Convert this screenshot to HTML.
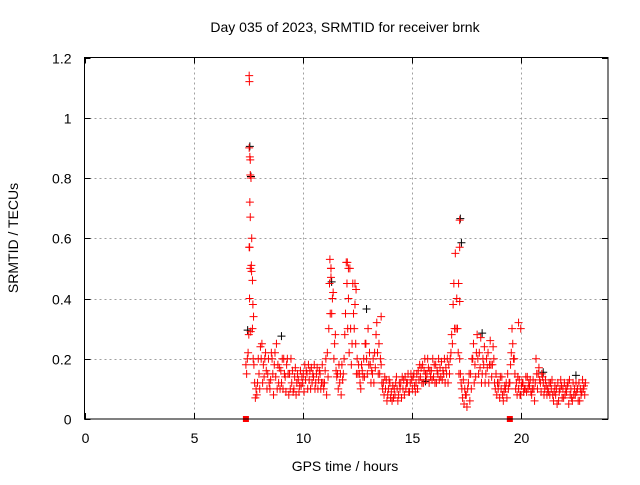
<!DOCTYPE html>
<html><head><meta charset="utf-8"><style>
body{margin:0;background:#fff;}
svg text{font-family:"Liberation Sans",sans-serif;font-size:14px;fill:#000;}
</style></head><body>
<svg id="chart" width="640" height="480" viewBox="0 0 640 480" xmlns="http://www.w3.org/2000/svg">
<rect width="640" height="480" fill="#fff"/>
<g id="grid"></g>
<g id="marks"></g>
<rect x="84.5" y="57.5" width="523.5" height="361.5" fill="none" stroke="#000" stroke-width="1"/>
<g id="ticks"></g>
<text x="345" y="32" text-anchor="middle">Day 035 of 2023, SRMTID for receiver brnk</text>
<text x="345" y="471" text-anchor="middle">GPS time / hours</text>
<text transform="translate(18,238) rotate(-90)" text-anchor="middle">SRMTID / TECUs</text>
</svg>
<script>
const xTicks=[0,5,10,15,20];
const yTicks=[0,0.2,0.4,0.6,0.8,1,1.2];
const yTickLabels=["0","0.2","0.4","0.6","0.8","1","1.2"];
const tStart=7.4, tStep=0.1;
const seriesA=[0.18,0.22,0.5,0.3,0.12,0.08,0.15,0.2,0.18,0.22,
0.15,0.1,0.2,0.18,0.25,0.12,0.16,0.1,0.14,0.2,
0.15,0.12,0.1,0.08,0.13,0.16,0.12,0.18,0.15,0.13,
0.17,0.14,0.12,0.1,0.15,0.18,0.12,0.08,0.3,0.5,
0.42,0.28,0.15,0.12,0.18,0.2,0.52,0.4,0.3,0.45,
0.38,0.2,0.15,0.18,0.2,0.25,0.3,0.18,0.15,0.22,
0.32,0.25,0.18,0.12,0.1,0.08,0.12,0.06,0.1,0.14,
0.08,0.12,0.1,0.14,0.12,0.09,0.13,0.15,0.12,0.16,
0.14,0.18,0.2,0.15,0.12,0.16,0.14,0.18,0.15,0.17,
0.13,0.2,0.15,0.18,0.22,0.38,0.55,0.3,0.2,0.1,
0.05,0.08,0.12,0.15,0.2,0.18,0.28,0.22,0.12,0.18,
0.15,0.22,0.26,0.18,0.12,0.08,0.12,0.1,0.06,0.1,
0.15,0.12,0.3,0.2,0.12,0.1,0.08,0.12,0.1,0.14,
0.11,0.08,0.1,0.2,0.15,0.12,0.14,0.1,0.08,0.12,
0.1,0.06,0.08,0.12,0.1,0.07,0.12,0.09,0.05,0.1,
0.12,0.08,0.1,0.06,0.09,0.11];
const seriesB=[0.15,0.28,0.8,0.2,0.07,0.12,0.1,0.25,0.14,0.16,
0.2,0.13,0.15,0.22,0.1,0.17,0.12,0.2,0.09,0.15,
0.1,0.16,0.14,0.12,0.09,0.11,0.15,0.13,0.1,0.16,
0.12,0.18,0.15,0.13,0.1,0.12,0.16,0.22,0.45,0.35,
0.2,0.16,0.1,0.15,0.13,0.28,0.45,0.22,0.18,0.35,
0.25,0.15,0.12,0.16,0.14,0.2,0.18,0.12,0.2,0.17,
0.22,0.15,0.12,0.08,0.13,0.1,0.07,0.11,0.08,0.1,
0.12,0.07,0.13,0.1,0.15,0.12,0.1,0.11,0.15,0.13,
0.17,0.12,0.15,0.2,0.16,0.13,0.18,0.12,0.2,0.14,
0.16,0.12,0.2,0.15,0.28,0.45,0.3,0.22,0.15,0.07,
0.1,0.04,0.15,0.1,0.25,0.14,0.2,0.17,0.15,0.24,
0.2,0.12,0.18,0.24,0.1,0.12,0.07,0.14,0.09,0.12,
0.1,0.18,0.25,0.15,0.08,0.13,0.11,0.09,0.14,0.1,
0.13,0.1,0.06,0.15,0.17,0.09,0.12,0.13,0.1,0.08,
0.13,0.09,0.1,0.06,0.13,0.1,0.08,0.11,0.13,0.07,
0.08,0.12,0.06,0.1,0.13,0.08];
const seriesC=[0.2,0.4,0.6,0.18,0.1,0.2,0.24,0.12,0.2,0.1,
0.12,0.22,0.08,0.14,0.18,0.1,0.2,0.15,0.18,0.08,
0.2,0.09,0.17,0.15,0.11,0.14,0.09,0.16,0.18,0.1,
0.15,0.1,0.17,0.16,0.12,0.1,0.2,0.14,0.35,0.4,
0.25,0.14,0.18,0.08,0.15,0.35,0.3,0.5,0.25,0.3,
0.15,0.18,0.1,0.14,0.25,0.15,0.22,0.16,0.12,0.28,
0.15,0.2,0.1,0.14,0.06,0.13,0.09,0.07,0.12,0.06,
0.1,0.14,0.08,0.12,0.09,0.15,0.14,0.09,0.1,0.18,
0.12,0.16,0.13,0.17,0.14,0.2,0.12,0.16,0.13,0.19,
0.15,0.17,0.12,0.2,0.25,0.3,0.4,0.15,0.12,0.13,
0.08,0.1,0.06,0.2,0.12,0.22,0.15,0.27,0.2,0.12,
0.17,0.18,0.14,0.2,0.15,0.1,0.14,0.08,0.11,0.07,
0.12,0.22,0.2,0.1,0.14,0.08,0.12,0.1,0.09,0.12,
0.09,0.13,0.12,0.1,0.13,0.15,0.08,0.11,0.09,0.12,
0.08,0.11,0.05,0.09,0.11,0.07,0.1,0.12,0.08,0.06,
0.1,0.09,0.12,0.08,0.1,0.12];
const spikeTimes=[7.55,7.56,7.55,7.58,7.6,7.6,7.58,7.6,7.55,7.57,7.65,7.66,7.7,7.72,7.75,7.62,17.2,17.2,17.15,17.2,11.25,11.3,11.3,12.05,12.1,12.4,12.45,13.6,19.9,20.0];
const spikeValues=[1.14,1.12,0.9,0.87,0.86,0.81,0.72,0.67,0.57,0.57,0.51,0.49,0.46,0.38,0.34,0.29,0.66,0.57,0.45,0.39,0.53,0.5,0.47,0.52,0.5,0.45,0.43,0.34,0.32,0.3];
const zeroTimes=[7.4,19.5];
const blackTimes=[7.55,7.6,17.2,17.25,7.45,11.3,12.9,18.2,21.0,9.0,15.6,22.5];
const blackValues=[0.9,0.8,0.66,0.58,0.29,0.45,0.36,0.28,0.15,0.27,0.12,0.14];

const X0=84.5,X1=608,Y0=419,Y1=57.5;
const xs=t=>X0+(t/24)*(X1-X0);
const ys=v=>Y0-(v/1.2)*(Y0-Y1);
const NS="http://www.w3.org/2000/svg";
const grid=document.getElementById('grid'),ticks=document.getElementById('ticks'),marks=document.getElementById('marks');
function line(p,x1,y1,x2,y2,st,dash){const l=document.createElementNS(NS,'line');l.setAttribute('x1',x1);l.setAttribute('y1',y1);l.setAttribute('x2',x2);l.setAttribute('y2',y2);l.setAttribute('stroke',st);if(dash)l.setAttribute('stroke-dasharray',dash);p.appendChild(l);return l;}
yTicks.forEach((v,i)=>{const y=Math.round(ys(v))+0.5;
 if(i>0&&i<yTicks.length-1){const g=line(grid,X0,y,X1,y,'#a0a0a0','2,3');
 
 }
 line(ticks,X0,y,X0+6,y,'#000');line(ticks,X1-6,y,X1,y,'#000');
 const t=document.createElementNS(NS,'text');t.setAttribute('x',X0-13);t.setAttribute('y',y+5);t.setAttribute('text-anchor','end');t.textContent=yTickLabels[i];
 
 
 ticks.appendChild(t);});
xTicks.forEach(v=>{const x=Math.round(xs(v))+0.5;
 if(v>0){const g=line(grid,x,Y1,x,Y0,'#a0a0a0','2,3');
 
 }
 line(ticks,x,Y0,x,Y0-6,'#000');line(ticks,x,Y1,x,Y1+6,'#000');
 const t=document.createElementNS(NS,'text');t.setAttribute('x',x);t.setAttribute('y',443);t.setAttribute('text-anchor','middle');t.textContent=v;
 
 
 ticks.appendChild(t);});
function plus(t,v,col){const x=xs(t),y=ys(v);const p=document.createElementNS(NS,'path');
 p.setAttribute('d',`M${x-4},${y}H${x+4}M${x},${y-4}V${y+4}`);p.setAttribute('stroke',col);p.setAttribute('stroke-width','1');p.setAttribute('fill','none');
 
 
 marks.appendChild(p);}
blackTimes.forEach((t,i)=>plus(t+0.03,blackValues[i]+0.005,'#000'));
seriesA.forEach((v,i)=>plus(tStart+i*tStep,v,'#f00'));
seriesB.forEach((v,i)=>plus(tStart+i*tStep+0.033,v,'#f00'));
seriesC.forEach((v,i)=>plus(tStart+i*tStep+0.066,v,'#f00'));
spikeTimes.forEach((t,i)=>plus(t,spikeValues[i],'#f00'));
zeroTimes.forEach(t=>{const r=document.createElementNS(NS,'rect');
 r.setAttribute('x',xs(t)-3);r.setAttribute('y',Y0-3);r.setAttribute('width',6);r.setAttribute('height',6);r.setAttribute('fill','#f00');
 
 
 marks.appendChild(r);});
</script>
</body></html>
